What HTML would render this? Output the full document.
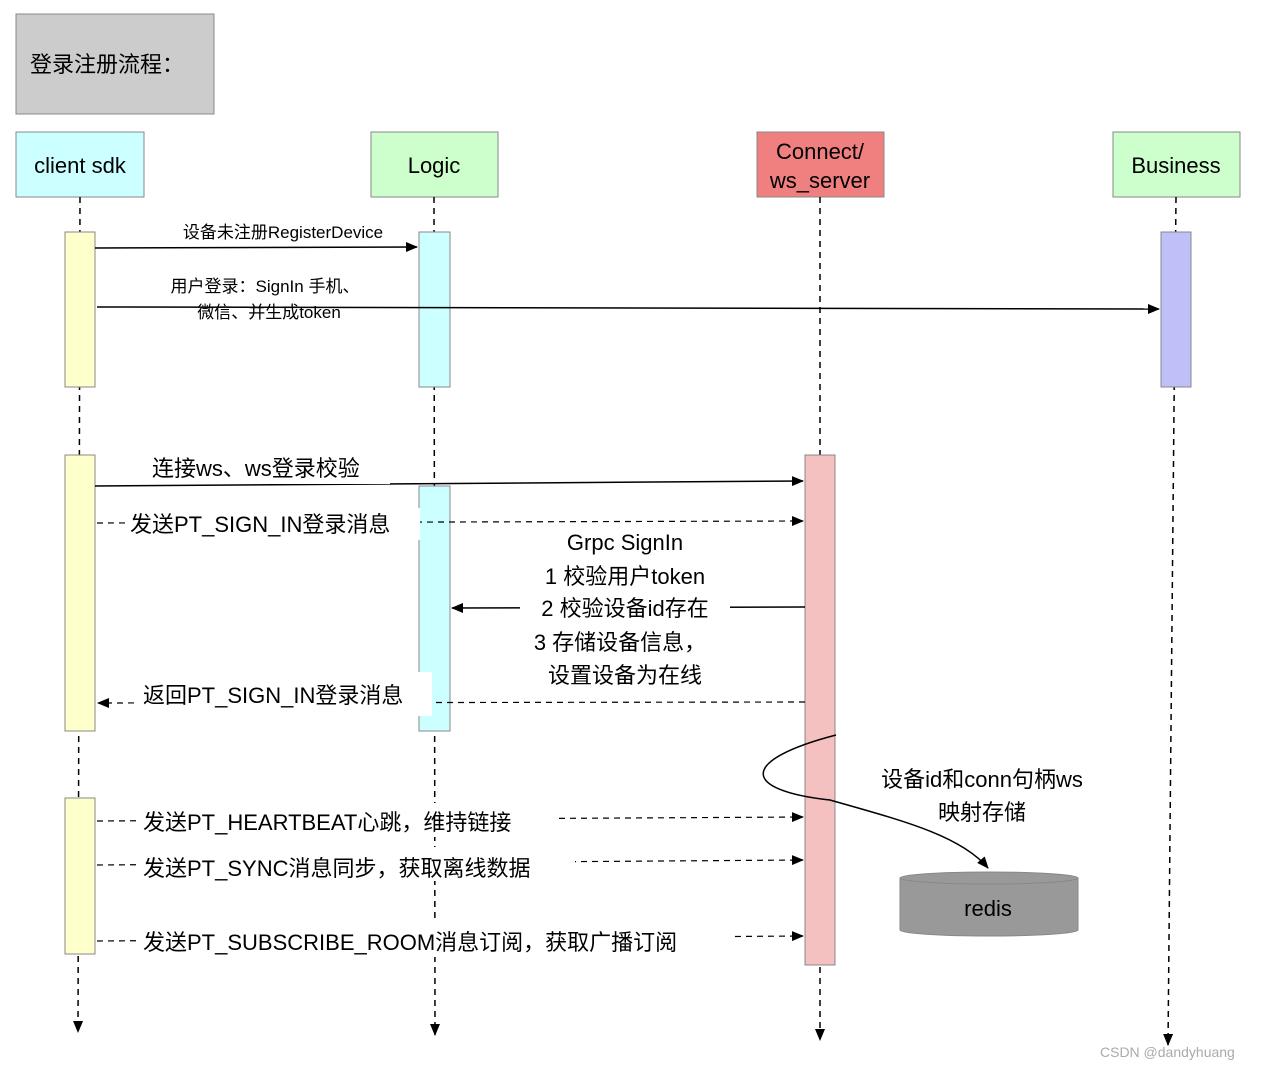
<!DOCTYPE html>
<html><head><meta charset="utf-8"><style>
body{margin:0;background:#fff}
text{font-family:"Liberation Sans","Noto Sans CJK SC",sans-serif;fill:#000}
</style></head><body>
<svg width="1262" height="1070" xmlns="http://www.w3.org/2000/svg">
<defs>
<marker id="a" markerWidth="12" markerHeight="10" refX="11" refY="5" orient="auto" markerUnits="userSpaceOnUse"><path d="M0,0 L12,5 L0,10 z" fill="#000"/></marker>
</defs>
<rect x="16" y="14" width="198" height="100" fill="#ccc" stroke="#888"/>
<text x="30" y="72" font-size="22">登录注册流程：</text>
<g stroke="#888">
<rect x="16" y="132" width="128" height="65" fill="#ccffff"/>
<rect x="371" y="132" width="127" height="65" fill="#ccffcc"/>
<rect x="757" y="132" width="127" height="65" fill="#f08080"/>
<rect x="1113" y="132" width="127" height="65" fill="#ccffcc"/>
</g>
<g font-size="22" text-anchor="middle">
<text x="80" y="173">client sdk</text>
<text x="434" y="173">Logic</text>
<text x="820" y="159">Connect/</text>
<text x="820" y="188">ws_server</text>
<text x="1176" y="173">Business</text>
</g>
<g stroke="#000" stroke-width="1.5" stroke-dasharray="6,5" fill="none">
<line x1="80" y1="197" x2="78" y2="1032" marker-end="url(#a)"/>
<line x1="434" y1="197" x2="435" y2="1035" marker-end="url(#a)"/>
<line x1="820" y1="197" x2="820" y2="1040" marker-end="url(#a)"/>
<line x1="1176" y1="197" x2="1168" y2="1045" marker-end="url(#a)"/>
</g>
<g stroke="#888">
<rect x="65" y="232" width="30" height="155" fill="#ffffcc"/>
<rect x="419" y="232" width="31" height="155" fill="#ccffff"/>
<rect x="1161" y="232" width="30" height="155" fill="#c0c0f8"/>
<rect x="65" y="455" width="30" height="276" fill="#ffffcc"/>
<rect x="419" y="486" width="31" height="245" fill="#ccffff"/>
<rect x="805" y="455" width="30" height="510" fill="#f4c0c0"/>
<rect x="65" y="798" width="30" height="156" fill="#ffffcc"/>
</g>
<g stroke="#000" stroke-width="1.5" fill="none">
<line x1="95" y1="248" x2="417" y2="247" marker-end="url(#a)"/>
<line x1="97" y1="307" x2="1159" y2="309" marker-end="url(#a)"/>
<line x1="95" y1="486" x2="803" y2="481" marker-end="url(#a)"/>
<line x1="805" y1="607" x2="452" y2="608" marker-end="url(#a)"/>
<path d="M836,735 C740,760 740,790 830,800 C900,820 960,835 988,868" marker-end="url(#a)"/>
</g>
<g stroke="#000" stroke-width="1.2" stroke-dasharray="6,5" fill="none">
<line x1="97" y1="523" x2="803" y2="521" marker-end="url(#a)"/>
<line x1="805" y1="702" x2="98" y2="703" marker-end="url(#a)"/>
<line x1="97" y1="821" x2="803" y2="817" marker-end="url(#a)"/>
<line x1="97" y1="865" x2="803" y2="860" marker-end="url(#a)"/>
<line x1="97" y1="941" x2="803" y2="936" marker-end="url(#a)"/>
</g>
<g fill="#fff">
<rect x="145" y="452" width="245" height="32"/>
<rect x="125" y="508" width="295" height="32"/>
<rect x="520" y="525" width="210" height="165"/>
<rect x="138" y="672" width="294" height="44"/>
<rect x="138" y="803" width="418" height="34"/>
<rect x="138" y="847" width="437" height="34"/>
<rect x="138" y="923" width="595" height="34"/>
</g>
<g font-size="17" text-anchor="middle">
<text x="283" y="238">设备未注册RegisterDevice</text>
<text x="265" y="292">用户登录：SignIn 手机、</text>
<text x="269" y="318">微信、并生成token</text>
</g>
<g font-size="22">
<text x="152" y="476">连接ws、ws登录校验</text>
<text x="130" y="532">发送PT_SIGN_IN登录消息</text>
<text x="143" y="703">返回PT_SIGN_IN登录消息</text>
<text x="143" y="830">发送PT_HEARTBEAT心跳，维持链接</text>
<text x="143" y="876">发送PT_SYNC消息同步，获取离线数据</text>
<text x="143" y="950">发送PT_SUBSCRIBE_ROOM消息订阅，获取广播订阅</text>
</g>
<g font-size="22" text-anchor="middle">
<text x="625" y="550">Grpc SignIn</text>
<text x="625" y="584">1 校验用户token</text>
<text x="625" y="616">2 校验设备id存在</text>
<text x="620" y="650">3 存储设备信息，</text>
<text x="625" y="683">设置设备为在线</text>
<text x="982" y="787">设备id和conn句柄ws</text>
<text x="982" y="820">映射存储</text>
</g>
<path d="M900,878 L900,930 A89,6 0 0 0 1078,930 L1078,878" fill="#999" stroke="#888"/>
<ellipse cx="989" cy="878" rx="89" ry="6" fill="#999" stroke="#888"/>
<text x="988" y="916" font-size="22" text-anchor="middle">redis</text>
<text x="1100" y="1057" font-size="14" style="fill:#aaa">CSDN @dandyhuang</text>
</svg>
</body></html>
